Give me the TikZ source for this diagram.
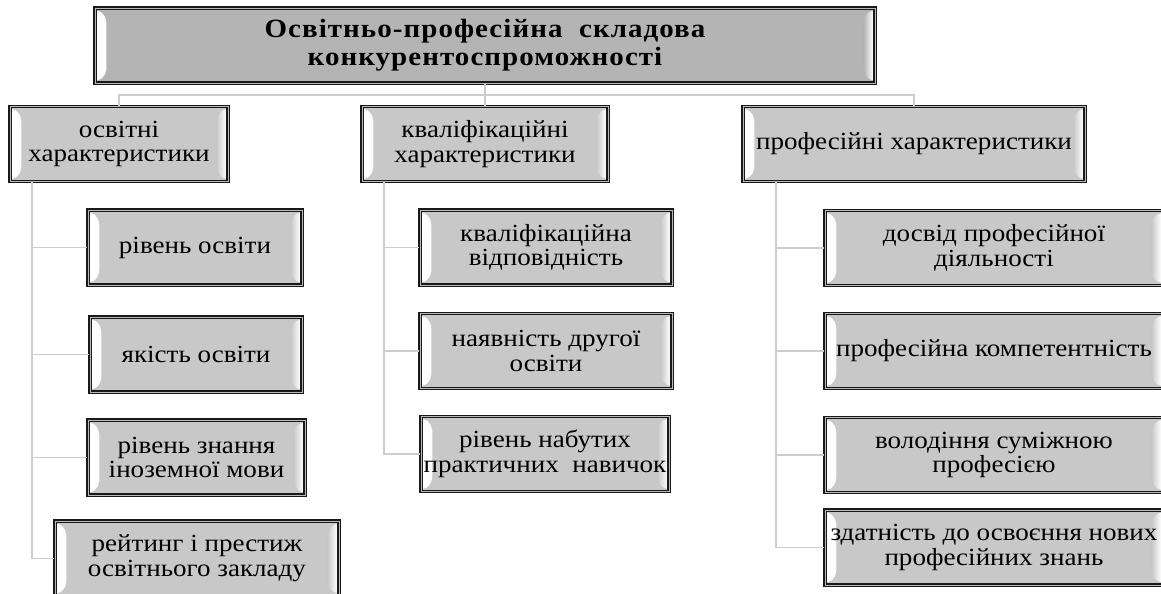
\documentclass[tikz,border=0pt]{standalone}
\usepackage{fontspec}
\setmainfont{Liberation Serif}[FakeStretch=1.1]
\usetikzlibrary{positioning,calc}
\definecolor{BoxGrey}{RGB}{200,200,200}
\definecolor{TopGrey}{RGB}{180,180,180}
\definecolor{LinkGrey}{RGB}{205,205,205}
\tikzset{
  bevel/.style={
    path picture={
      \shade[left color=white, right color=#1]
        ([xshift=1pt,yshift=-1.5pt]path picture bounding box.north west)
        .. controls +(5pt,-1pt) and +(0,3pt) .. ([xshift=6.5pt,yshift=-10pt]path picture bounding box.north west)
        -- ([xshift=6.5pt,yshift=10pt]path picture bounding box.south west)
        .. controls +(0,-3pt) and +(5pt,1pt) .. ([xshift=1pt,yshift=1.5pt]path picture bounding box.south west)
        -- cycle;
      \shade[left color=#1, right color=white]
        ([xshift=-1pt,yshift=-1.5pt]path picture bounding box.north east)
        .. controls +(-5pt,-1pt) and +(0,3pt) .. ([xshift=-6.5pt,yshift=-10pt]path picture bounding box.north east)
        -- ([xshift=-6.5pt,yshift=10pt]path picture bounding box.south east)
        .. controls +(0,-3pt) and +(-5pt,1pt) .. ([xshift=-1pt,yshift=1.5pt]path picture bounding box.south east)
        -- cycle;
    }
  },
  item/.style={
    rectangle, draw=black!90, line width=.7pt, double=gray!55, double distance=.45pt,
    fill=BoxGrey, bevel=BoxGrey, align=center,
    minimum height=1.5cm, inner sep=1pt,
    font=\fontsize{14}{14}\selectfont
  },
  head/.style={
    item, fill=TopGrey, bevel=TopGrey,
    font=\fontsize{15}{16}\selectfont\bfseries\addfontfeatures{LetterSpace=4}
  },
  link/.style={
    draw=LinkGrey, line width=1.1pt
  },
}

\begin{document}
\begin{tikzpicture}[x=0.02cm, y=-0.02cm]
  \useasboundingbox (0,0) rectangle (1161,594);

  \node[head, minimum width=15.6cm] (top) at (485,45.5)
    {Освітньо-професійна\ \ складова\\конкурентоспроможності};

  % groups
  \node[item, minimum width=4.36cm] (osv) at (119,144) {освітні\\характеристики};
  \node[item, minimum width=4.92cm] (kval) at (485,144) {кваліфікаційні\\характеристики};
  \node[item, minimum width=6.84cm] (prof) at (914,144) {професійні характеристики};

  % left column
  \node[item, minimum width=4.28cm] (rivosv) at (195,247.5) {рівень освіти};
  \node[item, minimum width=4.24cm] (yakist) at (196,354.5) {якість освіти};
  \node[item, minimum width=4.34cm] (znannya) at (196.5,457.5) {рівень знання\\іноземної мови};
  \node[item, minimum width=5.68cm] (reityng) at (197,558.5) {рейтинг і престиж\\освітнього закладу};

  % middle column
  \node[item, minimum width=5.04cm] (vidp) at (546,247.5) {кваліфікаційна\\відповідність};
  \node[item, minimum width=5.04cm] (druga) at (546,351) {наявність другої\\освіти};
  \node[item, minimum width=4.96cm] (navych) at (545,454) {рівень набутих\\практичних\ \ навичок};

  % right column
  \node[item, minimum width=6.76cm] (dosvid) at (994,248) {досвід професійної\\діяльності};
  \node[item, minimum width=6.76cm] (kompet) at (994,351) {професійна компетентність};
  \node[item, minimum width=6.76cm] (volod) at (994,455) {володіння суміжною\\професією};
  \node[item, minimum width=6.76cm] (zdat) at (994,547.5) {здатність до освоєння нових\\професійних знань};

  % connectors
  \draw[link] (top.south) -- (kval.north);
  \draw[link] (osv.north) -- ++(0,-11) -| (prof.north);

  \draw[link] ([xshift=.46cm]osv.south west) coordinate (t1) |- (reityng.west);
  \foreach \n in {rivosv,yakist,znannya}
    \draw[link] (t1 |- \n.west) -- (\n.west);

  \draw[link] ([xshift=.46cm]kval.south west) coordinate (t2) |- (navych.west);
  \foreach \n in {vidp,druga}
    \draw[link] (t2 |- \n.west) -- (\n.west);

  \draw[link] ([xshift=.68cm]prof.south west) coordinate (t3) |- (zdat.west);
  \foreach \n in {dosvid,kompet,volod}
    \draw[link] (t3 |- \n.west) -- (\n.west);
\end{tikzpicture}
\end{document}
